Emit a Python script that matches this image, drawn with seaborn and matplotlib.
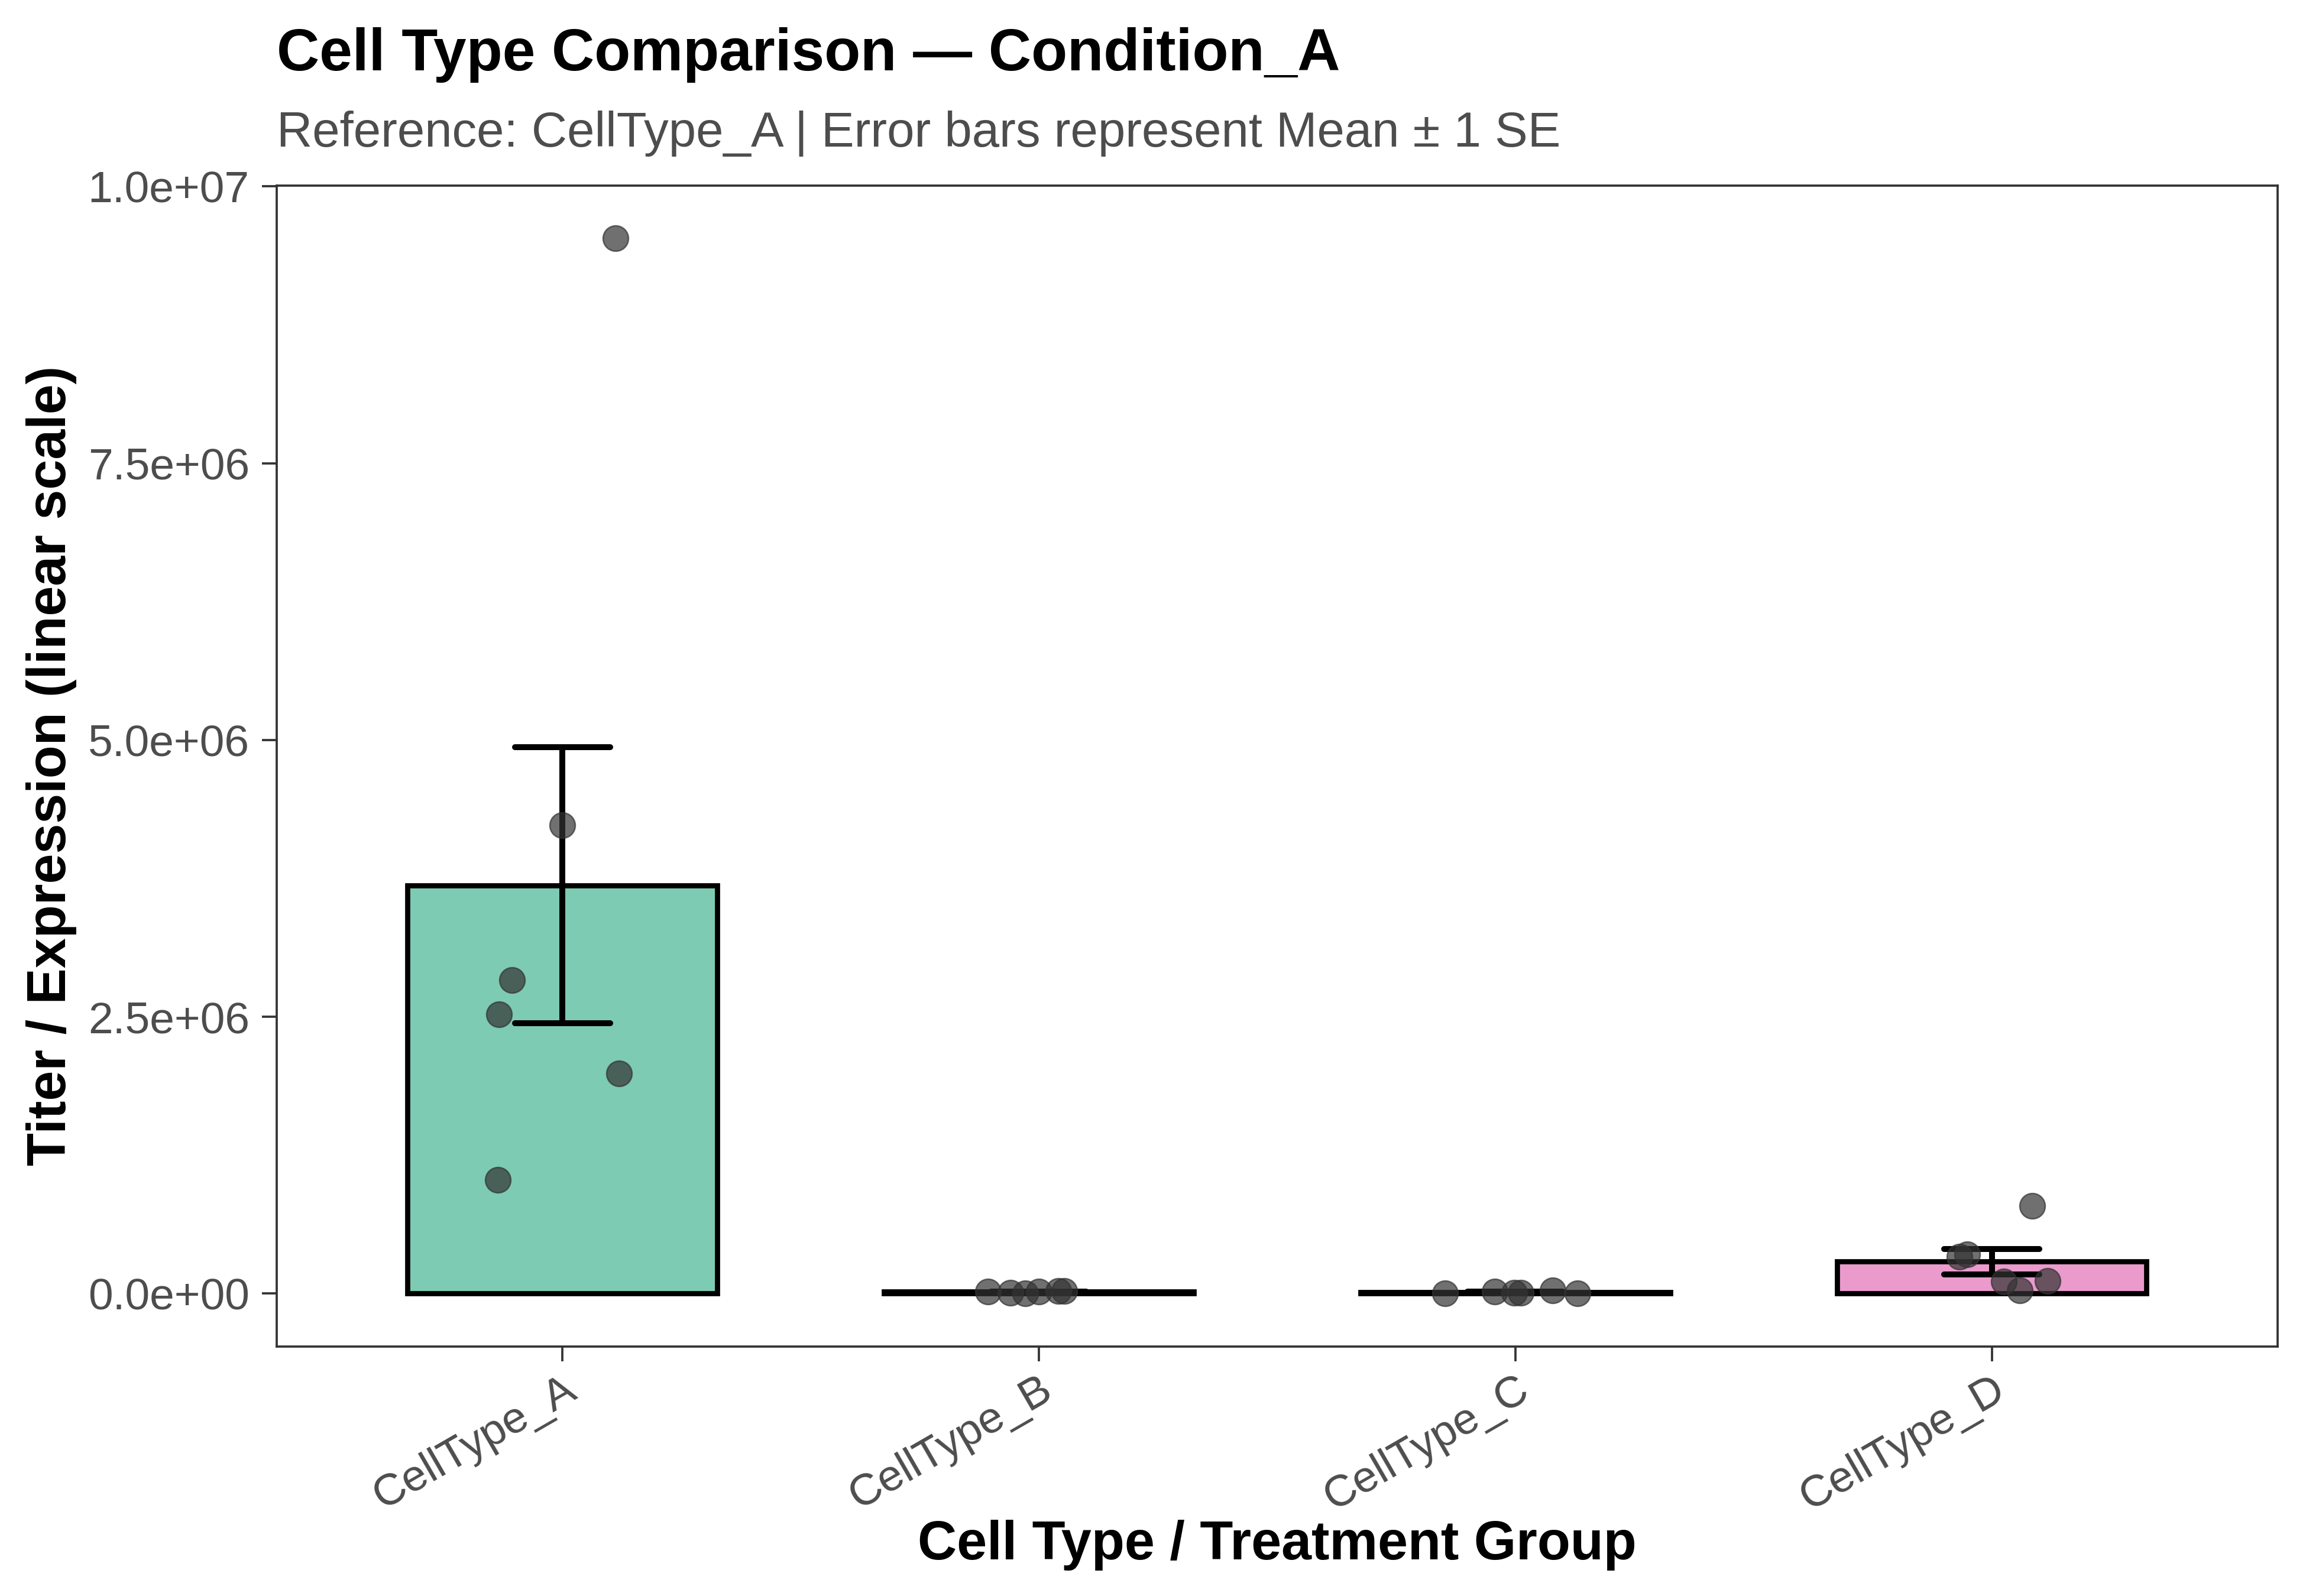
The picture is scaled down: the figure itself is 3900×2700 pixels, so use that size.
import numpy as np
import pandas as pd
import matplotlib
matplotlib.use("Agg")
import matplotlib.pyplot as plt
import seaborn as sns
from matplotlib.ticker import FuncFormatter

# groups on the x axis
cell_types = ["CellType_A", "CellType_B", "CellType_C", "CellType_D"]

# replicate values
vals_a = [9.53e6, 4.23e6, 2.83e6, 2.52e6, 1.99e6, 1.03e6]
vals_b = [18e3, 9e3, 2e3, 21e3, 24e3, 26e3]
vals_c = [5e3, 21e3, 6e3, 9e3, 30e3, 3e3]
vals_d = [0.793e6, 0.357e6, 0.331e6, 0.108e6, 0.117e6, 0.028e6]

# horizontal jitter of each dot (category units), same order as the values
jit_a = [0.111, 0.0, -0.106, -0.133, 0.119, -0.136]
jit_b = [-0.106, -0.059, -0.028, 0.0, 0.041, 0.054]
jit_c = [-0.147, -0.043, -0.002, 0.011, 0.078, 0.131]
jit_d = [0.085, -0.051, -0.068, 0.025, 0.117, 0.059]

bar_colors = ["#66C2A5", "#FC8D62", "#8DA0CB", "#E78AC3"]

title = "Cell Type Comparison \u2014 Condition_A"
subtitle = "Reference: CellType_A | Error bars represent Mean \u00b1 1 SE"
x_label = "Cell Type / Treatment Group"
y_label = "Titer / Expression (linear scale)"

all_vals = [vals_a, vals_b, vals_c, vals_d]
all_jit = [jit_a, jit_b, jit_c, jit_d]
df = pd.DataFrame({
    "cell_type": np.repeat(cell_types, [len(v) for v in all_vals]),
    "code": np.repeat(np.arange(len(cell_types)), [len(v) for v in all_vals]),
    "value": sum(all_vals, []),
    "jitter": sum(all_jit, []),
})
df["xpos"] = df["code"] + df["jitter"]

sns.set_style("white")
plt.rcParams["font.family"] = ["Liberation Sans", "DejaVu Sans"]

fig = plt.figure(figsize=(13, 9), dpi=300)
ax = fig.add_axes([0.1199, 0.1564, 0.8678, 0.7273])

sns.barplot(data=df, x="code", y="value", hue="cell_type", hue_order=cell_types,
            palette=bar_colors, native_scale=True, legend=False, saturation=1,
            errorbar="se", capsize=0.2, width=0.65, edgecolor="black", linewidth=2.1,
            err_kws={"color": "black", "linewidth": 2.4}, ax=ax)

# semi transparent fill, solid outline
for p in ax.patches:
    fc = p.get_facecolor()
    p.set_facecolor((fc[0], fc[1], fc[2], 0.85))

sns.scatterplot(data=df, x="xpos", y="value", color="#333333", alpha=0.7, s=106,
                edgecolor="#333333", linewidth=0.6, legend=False, zorder=5, ax=ax)

ymax = df["value"].max()
ax.set_ylim(-0.05 * ymax, 1.05 * ymax)
ax.set_xlim(-0.6, len(cell_types) - 0.4)
ax.set_yticks([0, 2.5e6, 5e6, 7.5e6, 1e7])
ax.yaxis.set_major_formatter(FuncFormatter(lambda v, _: f"{v:.1e}"))
ax.set_xticks(range(len(cell_types)))
ax.set_xticklabels(cell_types, rotation=30, ha="right", rotation_mode="anchor")
ax.set_xlabel("")
ax.set_ylabel("")

for s in ax.spines.values():
    s.set_visible(True)
    s.set_color("#333333")
    s.set_linewidth(0.9)
ax.tick_params(axis="both", length=6, width=0.9, color="#333333",
               labelcolor="#4D4D4D", labelsize=18, bottom=True, left=True)
ax.tick_params(axis="y", pad=5)
ax.tick_params(axis="x", pad=3)

fig.text(0.1199, 0.9558, title, fontsize=24, fontweight="bold", color="black",
         va="baseline", ha="left")
fig.text(0.1199, 0.908, subtitle, fontsize=20, color="#4D4D4D", va="baseline", ha="left")
fig.text(0.5538, 0.0231, x_label, fontsize=22, fontweight="bold", color="black",
         va="baseline", ha="center")
fig.text(0.0223, 0.5204, y_label, fontsize=22, fontweight="bold", color="black",
         rotation=90, va="center", ha="center")

fig.savefig("out.png", dpi=300)
